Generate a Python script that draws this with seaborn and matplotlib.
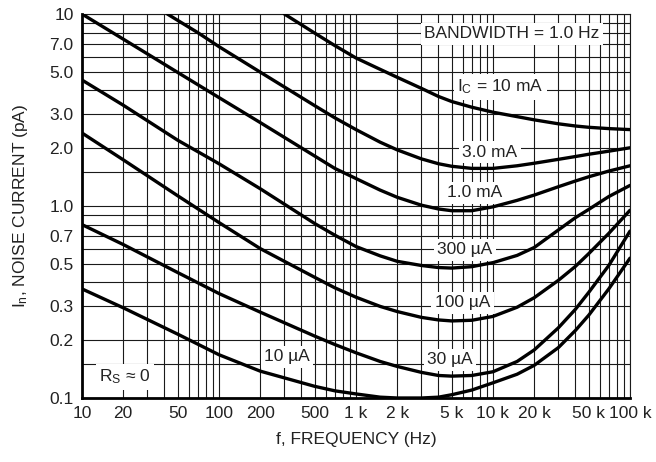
import numpy as np
import pandas as pd
import seaborn as sns
import matplotlib
matplotlib.use('Agg')
import matplotlib.pyplot as plt
from matplotlib.ticker import FixedLocator, FixedFormatter, NullFormatter

# values (pA vs Hz)
freq = [10, 20, 50, 100, 200, 500, 700, 1000, 1500, 2000, 3000, 4000, 5000, 7000,
        10000, 15000, 20000, 30000, 40000, 50000, 70000, 100000]
in_10ua = [0.37, 0.295, 0.215, 0.168, 0.138, 0.115, 0.109, 0.105, 0.101, 0.1, 0.1,
           0.101, 0.104, 0.11, 0.12, 0.133, 0.148, 0.183, 0.225, 0.27, 0.37, 0.535]
in_30ua = [0.8, 0.63, 0.45, 0.35, 0.28, 0.21, 0.19, 0.172, 0.155, 0.146, 0.136,
           0.131, 0.13, 0.131, 0.137, 0.155, 0.178, 0.232, 0.29, 0.355, 0.49, 0.74]
in_100ua = [2.4, 1.74, 1.13, 0.82, 0.6, 0.425, 0.375, 0.335, 0.3, 0.282, 0.263,
            0.255, 0.252, 0.254, 0.266, 0.297, 0.333, 0.41, 0.485, 0.565, 0.72, 0.95]
in_300ua = [4.53, 3.35, 2.2, 1.66, 1.23, 0.81, 0.705, 0.615, 0.55, 0.515, 0.49,
            0.478, 0.475, 0.483, 0.507, 0.553, 0.608, 0.75, 0.87, 0.96, 1.12, 1.28]
in_1ma = [10, 7.4, 4.96, 3.67, 2.72, 1.82, 1.57, 1.39, 1.21, 1.11, 1.01,
          0.965, 0.945, 0.945, 0.99, 1.07, 1.14, 1.26, 1.35, 1.42, 1.52, 1.62]

freq_3ma = [42, 50, 70, 100, 200, 500, 700, 1000, 1500, 2000, 3000, 4000, 5000, 7000,
            10000, 15000, 20000, 30000, 40000, 50000, 70000, 100000]
in_3ma = [10, 9.26, 8.0, 6.76, 4.98, 3.33, 2.88, 2.5, 2.15, 1.96, 1.76,
          1.66, 1.61, 1.57, 1.57, 1.62, 1.67, 1.75, 1.81, 1.86, 1.93, 2.01]

freq_10ma = [300, 500, 700, 1000, 1500, 2000, 3000, 4000, 5000, 7000,
             10000, 15000, 20000, 30000, 40000, 50000, 70000, 100000]
in_10ma = [10, 7.95, 6.85, 5.9, 5.15, 4.68, 4.1, 3.72, 3.5, 3.27,
           3.08, 2.92, 2.81, 2.68, 2.61, 2.57, 2.53, 2.5]

x_ticks = [10, 20, 50, 100, 200, 500, 1000, 2000, 5000, 10000, 20000, 50000, 100000]
x_labels = ['10', '20', '50', '100', '200', '500', '1 k', '2 k', '5 k',
            '10 k', '20 k', '50 k', '100 k']
y_ticks = [0.1, 0.2, 0.3, 0.5, 0.7, 1, 2, 3, 5, 7, 10]
y_labels = ['0.1', '0.2', '0.3', '0.5', '0.7', '1.0', '2.0', '3.0', '5.0', '7.0', '10']
y_minor = [0.15, 0.4, 0.6, 0.8, 0.9, 1.5, 4, 6, 8, 9]
x_minor = [m * 10 ** k for k in range(1, 5) for m in (3, 4, 6, 7, 8, 9)]

curve_labels = ['I$_\\mathregular{C}$ = 10 mA', '3.0 mA', '1.0 mA', '300 µA',
                '100 µA', '30 µA', '10 µA']
label_f = [11300, 9500, 7400, 6250, 6000, 4850, 313]
label_in = [4.17, 1.91, 1.17, 0.59, 0.313, 0.158, 0.164]

sns.set_style('white')
plt.rcParams['font.family'] = ['Liberation Sans', 'DejaVu Sans']
plt.rcParams['mathtext.default'] = 'regular'

rows = []
for name, fs, vals in [('10uA', freq, in_10ua), ('30uA', freq, in_30ua),
                       ('100uA', freq, in_100ua), ('300uA', freq, in_300ua),
                       ('1mA', freq, in_1ma), ('3mA', freq_3ma, in_3ma),
                       ('10mA', freq_10ma, in_10ma)]:
    for f, v in zip(fs, vals):
        rows.append({'f': f, 'In': v, 'Ic': name})
df = pd.DataFrame(rows)

fig = plt.figure(figsize=(6.56, 4.62), dpi=100)
ax = fig.add_axes([82 / 656, 64 / 462, 548 / 656, 384 / 462])

sns.lineplot(data=df, x='f', y='In', units='Ic', estimator=None, sort=False,
             color='black', lw=2.4, ax=ax, zorder=5)

ax.set_xscale('log')
ax.set_yscale('log')
ax.set_xlim(10, 100000)
ax.set_ylim(0.1, 10)

ax.xaxis.set_major_locator(FixedLocator(x_ticks))
ax.xaxis.set_major_formatter(FixedFormatter(x_labels))
ax.xaxis.set_minor_locator(FixedLocator(x_minor))
ax.xaxis.set_minor_formatter(NullFormatter())
ax.yaxis.set_major_locator(FixedLocator(y_ticks))
ax.yaxis.set_major_formatter(FixedFormatter(y_labels))
ax.yaxis.set_minor_locator(FixedLocator(y_minor))
ax.yaxis.set_minor_formatter(NullFormatter())

ax.grid(which='both', color='#1a1a1a', lw=0.8)
ax.set_axisbelow(True)
ax.tick_params(which='both', length=0, labelsize=12.5, pad=6, colors='#222222')

for side in ['top', 'right']:
    ax.spines[side].set_linewidth(0.8)
    ax.spines[side].set_color('#1a1a1a')
for side in ['left', 'bottom']:
    ax.spines[side].set_linewidth(2.0)
    ax.spines[side].set_color('black')

ax.set_xlabel('f, FREQUENCY (Hz)', fontsize=12.5, color='#222222', labelpad=8)
ax.set_ylabel('I$_\\mathregular{n}$, NOISE CURRENT (pA)', fontsize=12.5,
              color='#222222', labelpad=14)

box = dict(facecolor='white', edgecolor='none', pad=2.5)
for s, f, v in zip(curve_labels, label_f, label_in):
    ax.text(f, v, s, ha='center', va='center', fontsize=12.5, color='#222222',
            bbox=box, zorder=4)
ax.text(13800, 7.87, 'BANDWIDTH = 1.0 Hz', ha='center', va='center',
        fontsize=12.5, color='#222222', bbox=box, zorder=4)
ax.text(20.6, 0.129, 'R$_\\mathregular{S}$ ≈ 0', ha='center', va='center',
        fontsize=12.5, color='#222222', bbox=box, zorder=4)

fig.savefig('out.png', dpi=100)
